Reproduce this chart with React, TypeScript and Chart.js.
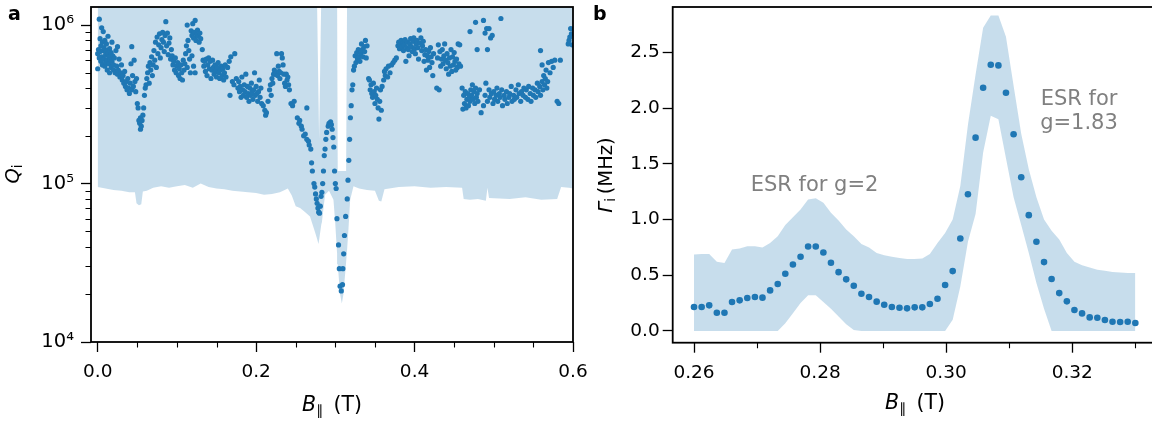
import React, { useEffect, useRef } from 'react';
import { Chart, registerables } from 'chart.js';
Chart.register(...registerables);

const BLUE = '#1f77b4';
const BAND = 'rgba(31,119,180,0.25)';
const FONT = 'DejaVu Sans';

// ---------- panel a : Q_i vs B ----------
const qiPoints: [number, number][] = [
  [0.000,6.6e5],[0.000,5.3e5],[0.001,7.0e5],[0.002,6.2e5],[0.002,1.09e6],[0.003,8.2e5],[0.003,6.8e5],[0.004,5.9e5],[0.004,7.4e5],[0.005,9.6e5],
  [0.005,6.3e5],[0.006,7.8e5],[0.006,5.6e5],[0.007,9.1e5],[0.007,6.9e5],[0.008,6.1e5],[0.008,7.2e5],[0.009,5.5e5],[0.009,8.0e5],[0.010,6.5e5],
  [0.010,5.8e5],[0.011,6.9e5],[0.011,7.6e5],[0.012,6.0e5],[0.012,5.2e5],[0.013,6.6e5],[0.013,8.5e5],[0.014,5.7e5],[0.014,6.3e5],[0.015,7.1e5],
  [0.015,5.0e5],[0.016,6.0e5],[0.017,6.7e5],[0.017,5.4e5],[0.018,7.8e5],[0.018,5.9e5],[0.019,6.4e5],[0.020,5.2e5],[0.020,5.6e5],[0.021,6.2e5],
  [0.022,5.0e5],[0.023,6.9e5],[0.024,5.5e5],[0.025,7.3e5],[0.025,4.9e5],[0.026,5.2e5],[0.027,6.1e5],[0.028,4.7e5],[0.029,5.0e5],[0.030,5.6e5],
  [0.031,4.5e5],[0.032,4.8e5],[0.033,4.3e5],[0.034,5.1e5],[0.035,4.1e5],[0.036,4.4e5],[0.037,3.9e5],[0.038,4.6e5],[0.039,4.0e5],[0.040,3.7e5],
  [0.041,4.3e5],[0.042,5.7e5],[0.043,3.9e5],[0.043,7.3e5],[0.044,4.8e5],[0.045,4.1e5],[0.046,6.0e5],[0.047,4.4e5],[0.048,3.8e5],[0.049,4.6e5],
  [0.050,3.2e5],[0.051,3.0e5],[0.052,2.5e5],[0.053,2.4e5],[0.054,2.2e5],[0.054,2.6e5],[0.055,2.3e5],[0.056,2.5e5],[0.057,2.7e5],[0.058,3.0e5],
  [0.059,3.6e5],[0.060,4.0e5],[0.061,4.2e5],[0.062,4.6e5],[0.063,5.0e5],[0.064,5.5e5],[0.065,4.3e5],[0.066,5.8e5],[0.067,5.2e5],[0.068,6.3e5],
  [0.069,4.8e5],[0.070,5.6e5],[0.071,6.9e5],[0.072,6.0e5],[0.073,7.8e5],[0.074,5.4e5],[0.075,8.4e5],[0.076,6.6e5],[0.077,7.5e5],[0.078,8.8e5],
  [0.079,6.2e5],[0.080,7.2e5],[0.081,8.1e5],[0.082,9.0e5],[0.083,7.8e5],[0.084,6.8e5],[0.085,8.6e5],[0.086,1.05e6],[0.087,7.4e5],[0.088,8.9e5],
  [0.089,6.5e5],[0.090,7.7e5],[0.091,8.3e5],[0.092,6.1e5],[0.093,7.0e5],[0.094,6.4e5],[0.095,5.6e5],[0.096,5.9e5],[0.097,5.2e5],[0.098,6.2e5],
  [0.099,5.0e5],[0.100,5.5e5],[0.101,5.8e5],[0.102,4.8e5],[0.103,5.3e5],[0.104,4.6e5],[0.105,5.6e5],[0.106,5.0e5],[0.107,4.5e5],[0.108,6.0e5],
  [0.109,5.2e5],[0.110,5.7e5],[0.111,6.6e5],[0.112,7.4e5],[0.113,5.4e5],[0.113,1.0e6],[0.114,8.0e5],[0.115,6.9e5],[0.116,6.1e5],[0.117,5.0e5],
  [0.118,9.2e5],[0.119,8.6e5],[0.119,6.4e5],[0.120,1.02e6],[0.121,8.3e5],[0.121,5.5e5],[0.122,9.0e5],[0.123,1.07e6],[0.123,5.0e5],[0.124,8.0e5],
  [0.125,8.7e5],[0.126,9.3e5],[0.127,8.5e5],[0.128,7.8e5],[0.129,8.9e5],[0.130,8.2e5],[0.132,7.0e5],[0.133,6.0e5],[0.134,5.5e5],[0.135,5.9e5],
  [0.136,5.1e5],[0.137,6.1e5],[0.138,4.8e5],[0.139,5.6e5],[0.140,6.2e5],[0.141,5.3e5],[0.142,5.9e5],[0.143,4.6e5],[0.144,5.2e5],[0.145,6.0e5],
  [0.146,5.4e5],[0.147,4.9e5],[0.148,5.6e5],[0.149,5.1e5],[0.150,4.7e5],[0.151,5.4e5],[0.152,5.8e5],[0.153,5.0e5],[0.154,4.6e5],[0.155,5.2e5],
  [0.156,5.5e5],[0.157,4.8e5],[0.158,5.3e5],[0.159,4.5e5],[0.160,5.0e5],[0.161,5.6e5],[0.162,4.7e5],[0.164,5.4e5],[0.166,5.9e5],[0.167,3.6e5],
  [0.168,6.3e5],[0.170,4.4e5],[0.172,4.2e5],[0.173,6.6e5],[0.175,4.6e5],[0.177,4.0e5],[0.178,4.4e5],[0.179,3.8e5],[0.180,4.1e5],[0.181,3.5e5],
  [0.182,4.7e5],[0.183,3.9e5],[0.184,3.6e5],[0.185,4.2e5],[0.186,3.8e5],[0.187,4.9e5],[0.188,3.5e5],[0.189,4.1e5],[0.190,3.7e5],[0.191,3.3e5],
  [0.192,4.0e5],[0.193,3.6e5],[0.194,4.3e5],[0.195,3.8e5],[0.196,3.4e5],[0.197,3.9e5],[0.198,5.0e5],[0.199,3.6e5],[0.200,4.1e5],[0.201,3.7e5],
  [0.202,3.3e5],[0.203,3.8e5],[0.204,4.5e5],[0.205,3.5e5],[0.206,4.0e5],[0.207,3.2e5],[0.209,3.1e5],[0.211,2.9e5],[0.212,2.7e5],[0.213,2.8e5],
  [0.215,3.3e5],[0.217,3.9e5],[0.218,4.2e5],[0.219,3.6e5],[0.220,4.6e5],[0.221,4.3e5],[0.222,4.9e5],[0.223,5.2e5],[0.224,4.9e5],[0.225,5.0e5],
  [0.226,6.6e5],[0.227,4.8e5],[0.228,5.5e5],[0.229,5.1e5],[0.230,4.6e5],[0.231,5.0e5],[0.232,6.6e5],[0.233,6.2e5],[0.234,5.6e5],[0.235,4.9e5],
  [0.236,4.3e5],[0.237,4.1e5],[0.238,4.9e5],[0.239,4.5e5],[0.240,4.7e5],[0.241,4.2e5],[0.242,3.9e5],[0.244,3.2e5],[0.246,3.1e5],[0.248,3.3e5],
  [0.252,2.6e5],[0.254,2.4e5],[0.255,2.5e5],[0.257,2.3e5],[0.258,2.2e5],[0.260,2.0e5],[0.262,2.05e5],[0.264,3.0e5],[0.264,1.9e5],[0.266,1.85e5],
  [0.267,1.75e5],[0.269,1.65e5],[0.270,1.35e5],[0.271,1.2e5],[0.273,1.0e5],[0.274,9.5e4],[0.275,8.6e4],[0.276,8.0e4],[0.277,7.5e4],[0.278,7.0e4],
  [0.279,6.6e4],[0.280,6.5e4],[0.281,7.2e4],[0.282,8.3e4],[0.283,8.8e4],[0.284,1.0e5],[0.285,1.2e5],[0.286,1.5e5],[0.287,1.65e5],[0.288,1.9e5],
  [0.289,2.1e5],[0.291,2.3e5],[0.292,2.4e5],[0.294,2.45e5],[0.295,2.35e5],[0.296,2.2e5],[0.297,1.95e5],[0.298,1.7e5],[0.299,1.2e5],[0.300,1.0e5],
  [0.301,9.3e4],[0.302,6.0e4],[0.304,4.1e4],[0.305,2.9e4],[0.306,2.25e4],[0.3075,2.1e4],[0.309,2.3e4],[0.3095,2.9e4],[0.3105,3.6e4],[0.3115,4.7e4],
  [0.313,6.2e4],[0.315,8.0e4],[0.316,1.05e5],[0.317,1.4e5],[0.318,1.9e5],[0.319,2.6e5],[0.320,3.1e5],[0.321,3.9e5],[0.322,4.2e5],[0.323,5.2e5],
  [0.324,5.5e5],[0.325,6.4e5],[0.326,5.8e5],[0.327,6.7e5],[0.328,6.1e5],[0.329,7.0e5],[0.330,6.3e5],[0.331,5.9e5],[0.332,6.6e5],[0.333,7.6e5],
  [0.334,7.0e5],[0.335,6.3e5],[0.336,7.3e5],[0.337,6.8e5],[0.338,8.0e5],[0.339,6.2e5],[0.340,7.4e5],[0.342,4.6e5],[0.343,4.5e5],[0.344,3.9e5],
  [0.345,4.2e5],[0.346,3.7e5],[0.347,3.5e5],[0.348,4.3e5],[0.349,3.8e5],[0.350,3.2e5],[0.351,3.6e5],[0.352,4.0e5],[0.353,3.4e5],[0.354,3.0e5],
  [0.355,2.55e5],[0.356,3.3e5],[0.357,3.9e5],[0.358,2.9e5],[0.359,4.1e5],[0.361,4.5e5],[0.362,5.1e5],[0.363,4.8e5],[0.364,5.3e5],[0.366,4.7e5],
  [0.367,5.5e5],[0.369,5.0e5],[0.371,5.6e5],[0.373,5.8e5],[0.375,6.0e5],[0.377,6.2e5],[0.379,7.4e5],[0.380,7.8e5],[0.381,7.1e5],[0.382,7.6e5],
  [0.383,8.0e5],[0.384,7.3e5],[0.385,7.7e5],[0.386,6.9e5],[0.387,7.5e5],[0.388,8.1e5],[0.389,5.9e5],[0.390,7.2e5],[0.391,7.8e5],[0.392,7.0e5],
  [0.393,6.4e5],[0.394,7.6e5],[0.395,8.2e5],[0.396,7.3e5],[0.397,6.8e5],[0.398,7.9e5],[0.399,8.3e5],[0.400,7.1e5],[0.401,6.6e5],[0.402,7.6e5],
  [0.403,8.0e5],[0.404,7.2e5],[0.405,6.1e5],[0.406,9.3e5],[0.407,7.7e5],[0.408,8.3e5],[0.409,6.9e5],[0.410,7.4e5],[0.411,7.9e5],[0.412,5.9e5],
  [0.413,6.5e5],[0.414,7.0e5],[0.415,5.2e5],[0.416,6.4e5],[0.417,6.0e5],[0.418,6.8e5],[0.419,5.4e5],[0.420,7.2e5],[0.421,6.3e5],[0.422,5.8e5],
  [0.423,4.8e5],[0.424,6.6e5],[0.428,4.0e5],[0.429,6.2e5],[0.430,7.5e5],[0.431,3.9e5],[0.432,6.8e5],[0.433,5.5e5],[0.434,6.1e5],[0.435,7.0e5],
  [0.436,5.7e5],[0.437,6.4e5],[0.438,7.6e5],[0.439,6.0e5],[0.440,5.3e5],[0.441,6.6e5],[0.442,5.8e5],[0.443,4.9e5],[0.444,6.2e5],[0.445,5.5e5],
  [0.446,7.0e5],[0.447,5.1e5],[0.448,6.3e5],[0.449,5.6e5],[0.450,6.7e5],[0.451,5.9e5],[0.452,5.2e5],[0.453,6.1e5],[0.454,5.4e5],[0.455,7.6e5],
  [0.456,5.7e5],[0.457,7.5e5],[0.458,5.5e5],[0.460,4.0e5],[0.461,2.95e5],[0.462,3.6e5],[0.463,3.2e5],[0.464,3.8e5],[0.465,3.0e5],[0.466,3.4e5],
  [0.467,3.7e5],[0.468,3.1e5],[0.469,3.5e5],[0.470,3.3e5],[0.470,9.1e5],[0.471,3.9e5],[0.472,3.6e5],[0.473,4.2e5],[0.474,3.4e5],[0.475,3.8e5],
  [0.476,3.2e5],[0.477,4.0e5],[0.477,1.04e6],[0.478,3.5e5],[0.479,3.7e5],[0.479,7.0e5],[0.480,3.3e5],[0.482,3.9e5],[0.484,2.8e5],[0.487,1.07e6],
  [0.487,3.1e5],[0.489,8.9e5],[0.489,3.6e5],[0.490,4.3e5],[0.491,9.5e5],[0.492,7.0e5],[0.492,3.3e5],[0.494,9.5e5],[0.494,3.9e5],[0.495,3.5e5],
  [0.496,8.3e5],[0.497,3.7e5],[0.498,8.6e5],[0.499,3.2e5],[0.500,3.8e5],[0.501,3.4e5],[0.503,3.6e5],[0.504,4.0e5],[0.505,3.3e5],[0.507,3.7e5],
  [0.508,3.5e5],[0.509,1.1e6],[0.510,3.9e5],[0.511,3.1e5],[0.513,3.6e5],[0.514,3.4e5],[0.516,3.8e5],[0.517,3.2e5],[0.519,3.5e5],[0.520,3.7e5],
  [0.522,4.1e5],[0.523,3.3e5],[0.525,3.6e5],[0.526,3.4e5],[0.528,3.9e5],[0.529,3.5e5],[0.531,4.2e5],[0.532,3.7e5],[0.534,3.3e5],[0.535,3.8e5],
  [0.537,3.6e5],[0.538,4.0e5],[0.540,3.5e5],[0.541,3.9e5],[0.543,3.4e5],[0.544,4.1e5],[0.546,3.7e5],[0.547,3.3e5],[0.549,4.0e5],[0.550,3.6e5],
  [0.552,3.9e5],[0.553,3.5e5],[0.555,4.3e5],[0.556,3.8e5],[0.558,4.1e5],[0.559,3.6e5],[0.559,6.9e5],[0.561,4.4e5],[0.561,5.6e5],[0.562,3.9e5],
  [0.563,4.8e5],[0.564,4.2e5],[0.565,4.6e5],[0.566,5.2e5],[0.567,4.0e5],[0.568,4.4e5],[0.569,5.8e5],[0.571,5.0e5],[0.573,5.9e5],[0.575,5.4e5],
  [0.577,6.0e5],[0.580,3.3e5],[0.582,3.2e5],[0.584,6.0e5],[0.594,7.6e5],[0.595,8.0e5],[0.596,8.4e5],[0.597,9.5e5],[0.598,8.8e5],[0.599,7.5e5],
];

const bandB = [
  0, 0.01, 0.02, 0.03, 0.04, 0.047, 0.049, 0.052, 0.055, 0.057,
  0.062, 0.07, 0.08, 0.09, 0.1, 0.11, 0.12, 0.13, 0.14, 0.15,
  0.16, 0.17, 0.18, 0.19, 0.2, 0.21, 0.22, 0.23, 0.24, 0.245,
  0.25, 0.2555, 0.262, 0.268, 0.2745, 0.2768, 0.2787, 0.2795, 0.2822, 0.283,
  0.287, 0.292, 0.2976, 0.2998, 0.3022, 0.303, 0.306, 0.3082, 0.3102, 0.3136,
  0.314, 0.3148, 0.3165, 0.3187, 0.3229, 0.33, 0.34, 0.35, 0.355, 0.358,
  0.362, 0.38, 0.4, 0.42, 0.44, 0.46, 0.462, 0.47, 0.48, 0.49,
  0.492, 0.494, 0.52, 0.54, 0.56, 0.58, 0.585, 0.595, 0.6,
];
const bandLo = [
  9.5e4, 9.3e4, 9.1e4, 9.0e4, 8.8e4, 8.8e4, 7.5e4, 7.3e4, 7.4e4, 8.9e4,
  9.0e4, 9.4e4, 9.6e4, 9.4e4, 9.6e4, 9.8e4, 9.4e4, 1.0e5, 9.5e4, 9.3e4,
  9.2e4, 9.0e4, 8.9e4, 8.8e4, 8.7e4, 8.5e4, 8.6e4, 8.8e4, 9.3e4, 8.4e4,
  7.2e4, 7.0e4, 6.6e4, 6.2e4, 4.9e4, 4.5e4, 4.15e4, 4.4e4, 5.5e4, 5.7e4,
  8.5e4, 9.0e4, 7.9e4, 5.7e4, 3.6e4, 3.1e4, 2.0e4, 1.75e4, 2.0e4, 3.2e4,
  3.4e4, 3.8e4, 5.1e4, 7.9e4, 9.6e4, 9.3e4, 9.1e4, 9.0e4, 7.8e4, 7.7e4,
  9.2e4, 9.5e4, 9.6e4, 9.4e4, 9.5e4, 9.4e4, 8.0e4, 7.9e4, 8.0e4, 7.8e4,
  9.4e4, 8.1e4, 8.0e4, 8.2e4, 7.9e4, 8.0e4, 9.5e4, 9.4e4, 9.3e4,
];
const bandHi = [
  1.5e6, 1.5e6, 1.5e6, 1.5e6, 1.5e6, 1.5e6, 1.5e6, 1.5e6, 1.5e6, 1.5e6,
  1.5e6, 1.5e6, 1.5e6, 1.5e6, 1.5e6, 1.5e6, 1.5e6, 1.5e6, 1.5e6, 1.5e6,
  1.5e6, 1.5e6, 1.5e6, 1.5e6, 1.5e6, 1.5e6, 1.5e6, 1.5e6, 1.5e6, 1.5e6,
  1.5e6, 1.5e6, 1.5e6, 1.5e6, 1.5e6, 1.5e6, 3.5e5, 1.9e5, 1.5e6, 1.5e6,
  1.5e6, 1.5e6, 1.5e6, 1.5e6, 1.5e6, 1.2e5, 1.2e5, 1.2e5, 1.2e5, 1.2e5,
  1.2e5, 1.5e6, 1.5e6, 1.5e6, 1.5e6, 1.5e6, 1.5e6, 1.5e6, 1.5e6, 1.5e6,
  1.5e6, 1.5e6, 1.5e6, 1.5e6, 1.5e6, 1.5e6, 1.5e6, 1.5e6, 1.5e6, 1.5e6,
  1.5e6, 1.5e6, 1.5e6, 1.5e6, 1.5e6, 1.5e6, 1.5e6, 1.5e6, 1.5e6,
];

const aXTicks = [0, 0.2, 0.4, 0.6];
const aXMinor = [0.05, 0.1, 0.15, 0.25, 0.3, 0.35, 0.45, 0.5, 0.55];
const aYTicks = [1e4, 1e5, 1e6];
const aYTickLabels = ['10⁴', '10⁵', '10⁶'];
const aYMinor = [2e4, 3e4, 4e4, 5e4, 6e4, 7e4, 8e4, 9e4, 2e5, 3e5, 4e5, 5e5, 6e5, 7e5, 8e5, 9e5];

// ---------- panel b : Gamma_i vs B ----------
const gammaB = [
  0.26000, 0.26121, 0.26241, 0.26362, 0.26483, 0.26603, 0.26724, 0.26845, 0.26966, 0.27086,
  0.27207, 0.27328, 0.27448, 0.27569, 0.27690, 0.27810, 0.27931, 0.28052, 0.28172, 0.28293,
  0.28414, 0.28534, 0.28655, 0.28776, 0.28897, 0.29017, 0.29138, 0.29259, 0.29379, 0.29500,
  0.29621, 0.29741, 0.29862, 0.29983, 0.30103, 0.30224, 0.30345, 0.30466, 0.30586, 0.30707,
  0.30828, 0.30948, 0.31069, 0.31190, 0.31310, 0.31431, 0.31552, 0.31672, 0.31793, 0.31914,
  0.32034, 0.32155, 0.32276, 0.32397, 0.32517, 0.32638, 0.32759, 0.32879, 0.33000,
];
const gammaVal = [
  0.215, 0.215, 0.230, 0.164, 0.164, 0.260, 0.275, 0.296, 0.305, 0.299,
  0.364, 0.421, 0.513, 0.597, 0.666, 0.758, 0.758, 0.704, 0.612, 0.528,
  0.463, 0.406, 0.334, 0.305, 0.263, 0.236, 0.215, 0.209, 0.203, 0.212,
  0.212, 0.242, 0.289, 0.412, 0.537, 0.830, 1.227, 1.734, 2.182, 2.388,
  2.382, 2.137, 1.764, 1.379, 1.039, 0.800, 0.618, 0.466, 0.340, 0.266,
  0.188, 0.158, 0.122, 0.119, 0.098, 0.083, 0.081, 0.083, 0.072,
];
const gammaLo = [
  0, 0, 0, 0, 0, 0, 0, 0, 0, 0,
  0, 0, 0.07, 0.16, 0.25, 0.32, 0.32, 0.26, 0.20, 0.13,
  0.06, 0.01, 0, 0, 0, 0, 0, 0, 0, 0,
  0, 0, 0, 0, 0.1, 0.4, 0.8, 1.05, 1.6, 1.93,
  1.9, 1.55, 1.2, 0.95, 0.7, 0.43, 0.2, 0, 0, 0,
  0, 0, 0, 0, 0, 0, 0, 0, 0,
];
const gammaHi = [
  0.687, 0.69, 0.69, 0.62, 0.61, 0.73, 0.74, 0.76, 0.76, 0.75,
  0.79, 0.85, 0.95, 1.02, 1.09, 1.18, 1.19, 1.15, 1.06, 0.99,
  0.91, 0.85, 0.78, 0.75, 0.70, 0.68, 0.666, 0.655, 0.645, 0.645,
  0.65, 0.69, 0.79, 0.88, 1.0, 1.3, 1.85, 2.3, 2.72, 2.83,
  2.83, 2.64, 2.2, 1.77, 1.45, 1.2, 1.0, 0.9, 0.82, 0.7,
  0.62, 0.59, 0.57, 0.55, 0.54, 0.53, 0.525, 0.52, 0.52,
];
const bXTicks = [0.26, 0.28, 0.30, 0.32];
const bXMinor = [0.27, 0.29, 0.31, 0.33];
const bYTicks = [0, 0.5, 1.0, 1.5, 2.0, 2.5];

// ---------- helpers ----------
function framePlugin(minorX: number[], minorY: number[]) {
  return {
    id: 'frameAndMinor',
    afterDraw(chart: any) {
      const { ctx, chartArea: a, scales } = chart;
      ctx.save();
      ctx.strokeStyle = '#000';
      ctx.lineWidth = 1.1;
      ctx.beginPath();
      for (const v of minorX) {
        const px = Math.round(scales.x.getPixelForValue(v)) + 0.5;
        ctx.moveTo(px, a.bottom);
        ctx.lineTo(px, a.bottom + 5.5);
      }
      for (const v of minorY) {
        const py = Math.round(scales.y.getPixelForValue(v)) + 0.5;
        ctx.moveTo(a.left, py);
        ctx.lineTo(a.left - 5.5, py);
      }
      ctx.stroke();
      ctx.lineWidth = 1.8;
      ctx.strokeRect(a.left, a.top, a.right - a.left, a.bottom - a.top);
      ctx.restore();
    },
  };
}

const tickFont = { family: FONT, size: 18.5 };
const gridOpts = { drawOnChartArea: false, drawTicks: true, tickLength: 10, tickWidth: 1.3, tickColor: '#000' };

function buildConfig(p: any) {
  return {
    type: 'line',
    data: {
      datasets: [
        {
          data: p.points,
          showLine: false,
          pointRadius: p.radius,
          pointBackgroundColor: BLUE,
          pointBorderColor: BLUE,
          pointBorderWidth: 0,
          borderColor: 'transparent',
        },
        {
          data: p.hi,
          pointRadius: 0,
          borderWidth: 0,
          borderColor: 'transparent',
          backgroundColor: BAND,
          fill: '+1',
        },
        {
          data: p.lo,
          pointRadius: 0,
          borderWidth: 0,
          borderColor: 'transparent',
          fill: false,
        },
      ],
    },
    options: {
      responsive: false,
      animation: false,
      devicePixelRatio: 1,
      events: [],
      layout: { padding: { left: 0, right: p.padRight, top: 7, bottom: 0 } },
      plugins: { legend: { display: false }, tooltip: { enabled: false }, title: { display: false } },
      scales: {
        x: {
          type: 'linear',
          min: p.xMin,
          max: p.xMax,
          afterBuildTicks: (s: any) => { s.ticks = p.xTicks.map((v: number) => ({ value: v })); },
          afterFit: (s: any) => { s.height = p.xAxisH; s.paddingLeft = 0; s.paddingRight = 0; },
          ticks: { callback: p.xLabel, color: '#000', font: tickFont, padding: 9, maxRotation: 0, autoSkip: false },
          grid: gridOpts,
          border: { display: false },
        },
        y: {
          type: p.yType,
          min: p.yMin,
          max: p.yMax,
          afterBuildTicks: (s: any) => { s.ticks = p.yTicks.map((v: number) => ({ value: v })); },
          afterFit: (s: any) => { s.width = p.yAxisW; s.paddingTop = 0; s.paddingBottom = 0; },
          ticks: { callback: p.yLabel, color: '#000', font: p.yFont || tickFont, padding: p.yPad, autoSkip: false },
          grid: gridOpts,
          border: { display: false },
        },
      },
    },
    plugins: [framePlugin(p.minorX, p.minorY)],
  };
}

function ChartCanvas({ config, width, height, left }: any) {
  const ref = useRef<HTMLCanvasElement>(null);
  useEffect(() => {
    const chart = new Chart(ref.current as HTMLCanvasElement, config());
    return () => chart.destroy();
  }, []);
  return (
    <canvas
      ref={ref}
      width={width}
      height={height}
      style={{ position: 'absolute', left, top: 0, width, height }}
    />
  );
}

function Label({ x, y, size, children, anchor = 'middle', rotate = false, weight = 400, color = '#000' }: any) {
  const tx = anchor === 'middle' ? '-50%' : '0';
  return (
    <div
      style={{
        position: 'absolute',
        left: x,
        top: y,
        width: 0,
        height: 0,
        transform: rotate ? 'rotate(-90deg)' : undefined,
        transformOrigin: '0 0',
      }}
    >
      <span
        style={{
          position: 'absolute',
          left: 0,
          top: 0,
          whiteSpace: 'nowrap',
          fontFamily: FONT,
          fontSize: size,
          lineHeight: `${size}px`,
          fontWeight: weight,
          color,
          transform: `translate(${tx}, ${-0.846 * size}px)`,
        }}
      >
        {children}
      </span>
    </div>
  );
}

const subStyle: any = { fontSize: '0.68em', verticalAlign: '-0.3em', lineHeight: 0 };

export default function App() {
  const leftConfig = () =>
    buildConfig({
      points: qiPoints.map(([x, y]) => ({ x, y })),
      hi: bandB.map((x, i) => ({ x, y: bandHi[i] })),
      lo: bandB.map((x, i) => ({ x, y: bandLo[i] })),
      radius: 2.6,
      padRight: 17,
      xMin: -0.00846,
      xMax: 0.6,
      xTicks: aXTicks,
      xLabel: (v: any) => Number(v).toFixed(1),
      xAxisH: 81,
      yType: 'logarithmic',
      yMin: 1e4,
      yMax: 1.3e6,
      yTicks: aYTicks,
      yLabel: (_v: any, i: number) => aYTickLabels[i],
      yFont: { family: FONT, size: 19.5 },
      yAxisW: 91,
      yPad: 7,
      minorX: aXMinor,
      minorY: aYMinor,
    });
  const rightConfig = () =>
    buildConfig({
      points: gammaB.map((x, i) => ({ x, y: gammaVal[i] })),
      hi: gammaB.map((x, i) => ({ x, y: gammaHi[i] })),
      lo: gammaB.map((x, i) => ({ x, y: gammaLo[i] })),
      radius: 3.3,
      padRight: 32.6,
      xMin: 0.25662,
      xMax: 0.3335,
      xTicks: bXTicks,
      xLabel: (v: any) => Number(v).toFixed(2),
      xAxisH: 80.3,
      yType: 'linear',
      yMin: -0.105,
      yMax: 2.906,
      yTicks: bYTicks,
      yLabel: (v: any) => Number(v).toFixed(1),
      yAxisW: 82.7,
      yPad: 3,
      minorX: bXMinor,
      minorY: [],
    });

  return (
    <div style={{ position: 'fixed', left: 0, top: 0, width: 1152, height: 423, overflow: 'hidden', background: '#fff' }}>
      <ChartCanvas config={leftConfig} width={590} height={423} left={0} />
      <ChartCanvas config={rightConfig} width={600} height={423} left={590} />

      <Label x={8} y={20} size={19} weight={700} anchor="start">a</Label>
      <Label x={593} y={20} size={19} weight={700} anchor="start">b</Label>

      <Label x={332} y={411} size={20.5}>
        <i>B</i><sub style={subStyle}>∥</sub>{'\u2002(T)'}
      </Label>
      <Label x={915} y={408.5} size={20.5}>
        <i>B</i><sub style={subStyle}>∥</sub>{'\u2002(T)'}
      </Label>

      <Label x={19} y={174} size={19.5} rotate>
        <i>Q</i><sub style={subStyle}>i</sub>
      </Label>
      <Label x={612} y={175} size={19.5} rotate>
        <i>Γ</i><sub style={subStyle}>i</sub>{'\u2009(MHz)'}
      </Label>

      <Label x={814.5} y={191.7} size={21} color="#808080">ESR for g=2</Label>
      <Label x={1079} y={106} size={21} color="#808080">ESR for</Label>
      <Label x={1079} y={130} size={21} color="#808080">g=1.83</Label>
    </div>
  );
}
